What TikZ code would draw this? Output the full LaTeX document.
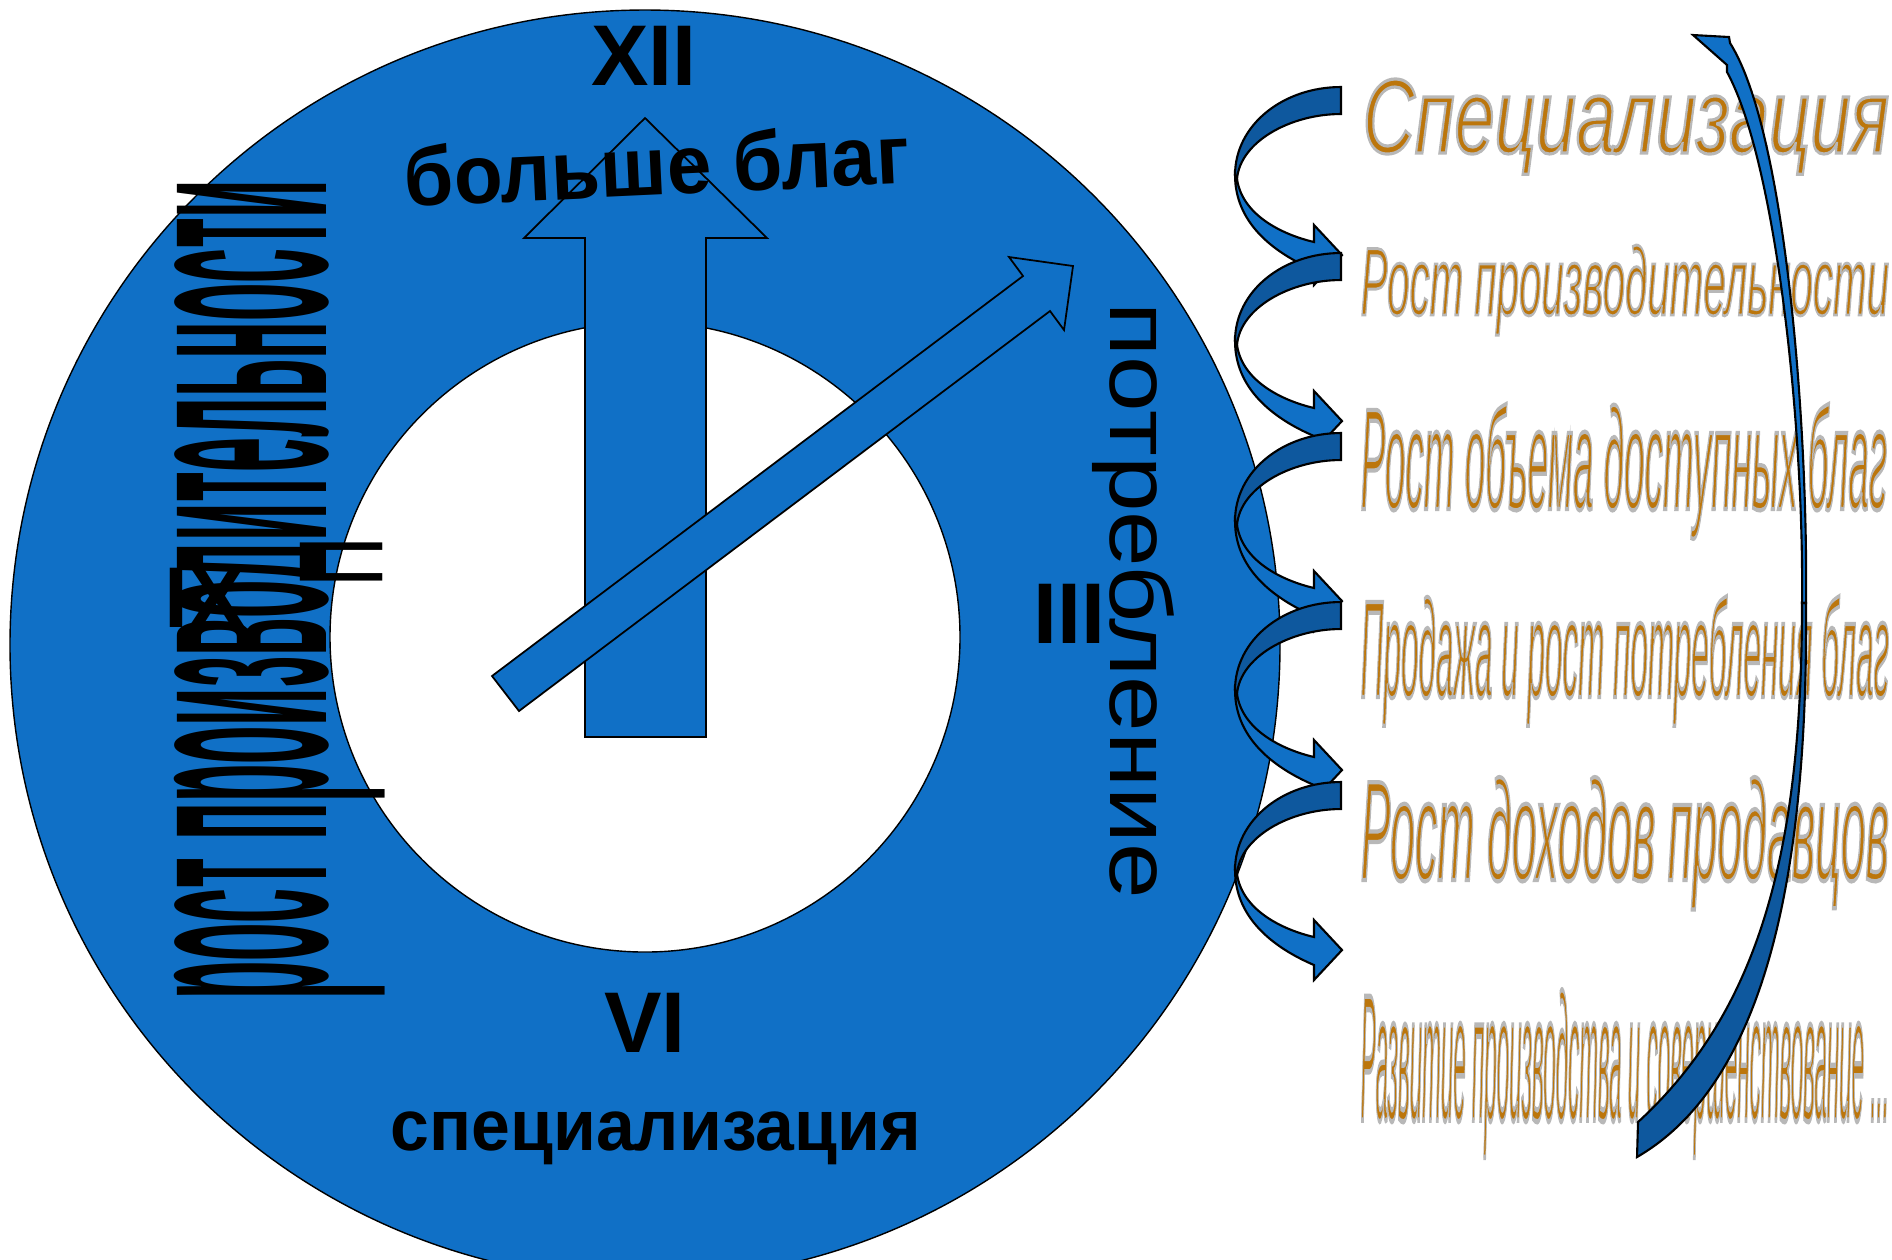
\documentclass[tikz,border=0pt]{standalone}
\usepackage{fontspec}
\setmainfont{Liberation Sans}
\usepackage{graphicx}
\definecolor{dialblue}{RGB}{16,112,198}
\definecolor{ribbonblue}{RGB}{14,88,158}
\definecolor{wordgold}{RGB}{188,118,12}
% stretch a text to a given length and x-height
\newcommand{\fitx}[3]{\resizebox{#1}{#2}{\raisebox{0pt}[1ex][0pt]{#3}}}
% grey rim round the letters
\newcommand{\rim}[1]{\special{pdf:code q 2 Tr 0.3 w 0.72 0.72 0.72 RG}#1\special{pdf:code Q}}
\tikzset{
  dial/.style = {draw=black, line width=0.4pt, fill=dialblue},
  hand/.style = {draw=black, line width=0.5pt, fill=dialblue},
  numeral/.style = {inner sep=0pt, font=\fontsize{24.5pt}{26pt}\selectfont\bfseries},
  caption/.style = {inner sep=0pt, anchor=base west},
  ribbon_back/.style = {draw=black, line width=0.6pt, fill=ribbonblue},
  ribbon_front/.style = {draw=black, line width=0.6pt, fill=dialblue},
  wordart/.style = {inner sep=0pt, anchor=base west, text=wordgold,
    font=\itshape}}

\begin{document}
\begin{tikzpicture}[x=0.01cm, y=-0.01cm]
\useasboundingbox (0,0) rectangle (1892,1259);
\clip (0,0) rectangle (1892,1259);

% clock face
\draw[dial] (645,645) circle (635);
\draw[draw=black, line width=0.4pt, fill=white] (645,637) circle (315);
\draw[hand] (585,737) -- (585,238) -- (524,238) -- (645,118) -- (767,238)
  -- (706,238) -- (706,737) -- cycle;
\draw[hand] (492,676) -- (1023,276) -- (1009,257) -- (1073,266) -- (1064,330)
  -- (1050,311) -- (519,711) -- cycle;

\node[numeral] (n12) at (644,56) {XII};
\node[numeral] (n3) at (1069,614) {III};
\node[numeral] (n6) at (645,1023) {VI};
\node[numeral] (n9) at (205,598) {IX};

\node[caption, rotate=2.7, font=\bfseries] (more) at (405,207)
  {\fitx{5.05cm}{0.44cm}{больше благ}};
\node[caption, font=\bfseries] (spec) at (390,1150)
  {\fitx{5.3cm}{0.38cm}{специализация}};
\node[caption, rotate=-90] (cons) at (1110,302)
  {\fitx{5.96cm}{0.46cm}{потребление}};
\node[caption, rotate=90, font=\bfseries] (growth) at (326,1000)
  {\fitx{8.19cm}{1.49cm}{рост производительности}};

% twisted arrows between the steps
\foreach \yt in {87,253,433,602,782}{
  \draw[ribbon_back] (1341,\yt) .. controls (1283,\yt) and (1235,\yt+38)
    .. (1235,\yt+88) -- (1237,\yt+92) .. controls (1240,\yt+55)
    and (1290,\yt+27) .. (1341,\yt+27) -- cycle;
  \draw[ribbon_front] (1235,\yt+88) .. controls (1235,\yt+135)
    and (1272,\yt+165) .. (1314,\yt+183) -- (1314,\yt+198) -- (1342,\yt+168)
    -- (1314,\yt+138) -- (1314,\yt+155) .. controls (1280,\yt+147)
    and (1242,\yt+127) .. (1237,\yt+92) -- cycle;
}

\node[wordart] (chain1) at (1362,153)
  {\fitx{5.26cm}{0.56cm}{\rim{Специализация}}};
\node[wordart] (chain2) at (1360,315)
  {\fitx{5.28cm}{0.51cm}{\rim{Рост производительности}}};
\node[wordart] (chain3) at (1360,509)
  {\fitx{5.26cm}{0.76cm}{\rim{Рост объема доступных благ}}};
\node[wordart] (chain4) at (1360,697)
  {\fitx{5.28cm}{0.73cm}{\rim{Продажа и рост потребления благ}}};
\node[wordart] (chain5) at (1360,880)
  {\fitx{5.28cm}{0.75cm}{\rim{Рост доходов продавцов}}};
\node[wordart] (chain6) at (1360,1120)
  {\fitx{5.28cm}{0.95cm}{\rim{Развитие производства и совершенствование ...}}};

% long return arrow
\draw[ribbon_front] (1693,35) -- (1729,37) -- (1730,43) .. controls (1785,130)
  and (1808,420) .. (1806,603) -- (1802,603) .. controls (1804,420)
  and (1775,160) .. (1727,72) -- (1727,65) -- cycle;
\draw[ribbon_back] (1806,603) .. controls (1808,860) and (1770,1080)
  .. (1637,1157) -- (1638,1122) .. controls (1760,1010) and (1802,850)
  .. (1802,603) -- cycle;
\end{tikzpicture}
\end{document}
